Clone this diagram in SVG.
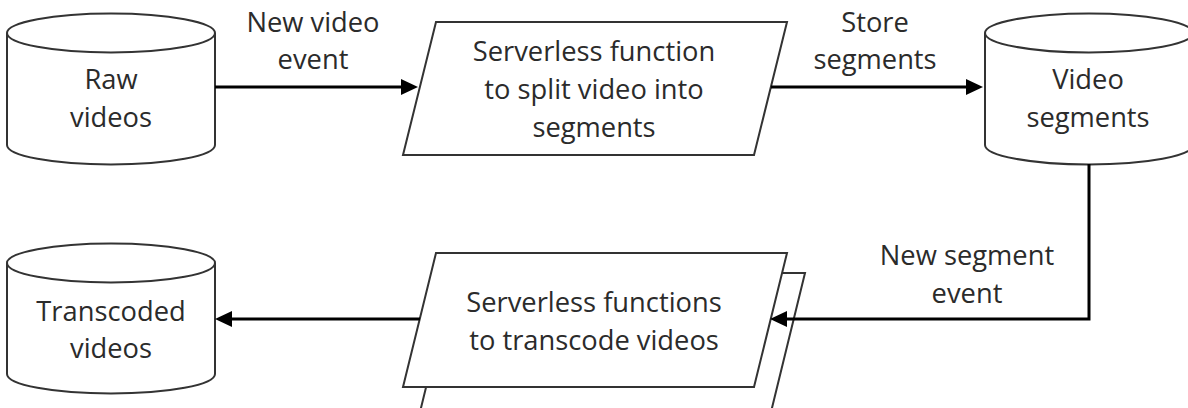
<svg xmlns="http://www.w3.org/2000/svg" width="1188" height="408" viewBox="0 0 1188 408">
<style>
.shape{fill:#fff;stroke:#333;stroke-width:2;stroke-linejoin:miter}
.conn{fill:none;stroke:#000;stroke-width:3}
text{font-family:"Open Sans","Noto Sans","Liberation Sans",sans-serif;font-size:27.3px;fill:#2b2b2b;text-anchor:middle}
</style>
<defs>
<marker id="arr" markerUnits="userSpaceOnUse" markerWidth="18" markerHeight="18" refX="0" refY="8" orient="auto">
<path d="M0,0 L17,8 L0,16 z" fill="#000"/>
</marker>
</defs>
<rect width="1188" height="408" fill="#fff"/>

<g id="raw-videos">
<path class="shape" d="M7,33 L7,145 A104,19.5 0 0 0 215,145 L215,33"/>
<ellipse class="shape" cx="111" cy="33" rx="104" ry="19.5"/>
<text x="111" y="89">Raw</text>
<text x="111" y="127">videos</text>
</g>

<g id="split-function">
<polygon class="shape" points="436,22 787,22 754,155 403,155"/>
<text x="594" y="61">Serverless function</text>
<text x="594" y="99">to split video into</text>
<text x="594" y="137">segments</text>
</g>

<g id="video-segments">
<path class="shape" d="M985,33 L985,145 A104,19.5 0 0 0 1193,145 L1193,33"/>
<ellipse class="shape" cx="1089" cy="33" rx="104" ry="19.5"/>
<text x="1088" y="89">Video</text>
<text x="1088" y="127">segments</text>
</g>

<g id="transcode-functions">
<polygon class="shape" points="454,273 805,273 771,412 420,412"/>
<polygon class="shape" points="436,253 787,253 754,387 403,387"/>
<text x="594" y="312">Serverless functions</text>
<text x="594" y="350">to transcode videos</text>
</g>

<g id="transcoded-videos">
<path class="shape" d="M7,263 L7,374 A104,19.5 0 0 0 215,374 L215,263"/>
<ellipse class="shape" cx="111" cy="263" rx="104" ry="19.5"/>
<text x="111" y="321">Transcoded</text>
<text x="111" y="358">videos</text>
</g>

<g id="connectors">
<path class="conn" d="M215,87 L401,87" marker-end="url(#arr)"/>
<path class="conn" d="M771,87 L966,87" marker-end="url(#arr)"/>
<path class="conn" d="M1089,164 L1089,319 L787,319" marker-end="url(#arr)"/>
<path class="conn" d="M420,319 L232,319" marker-end="url(#arr)"/>
<text x="313" y="32">New video</text>
<text x="313" y="69">event</text>
<text x="875" y="32">Store</text>
<text x="875" y="69">segments</text>
<text x="967" y="265">New segment</text>
<text x="967" y="303">event</text>
</g>
</svg>
